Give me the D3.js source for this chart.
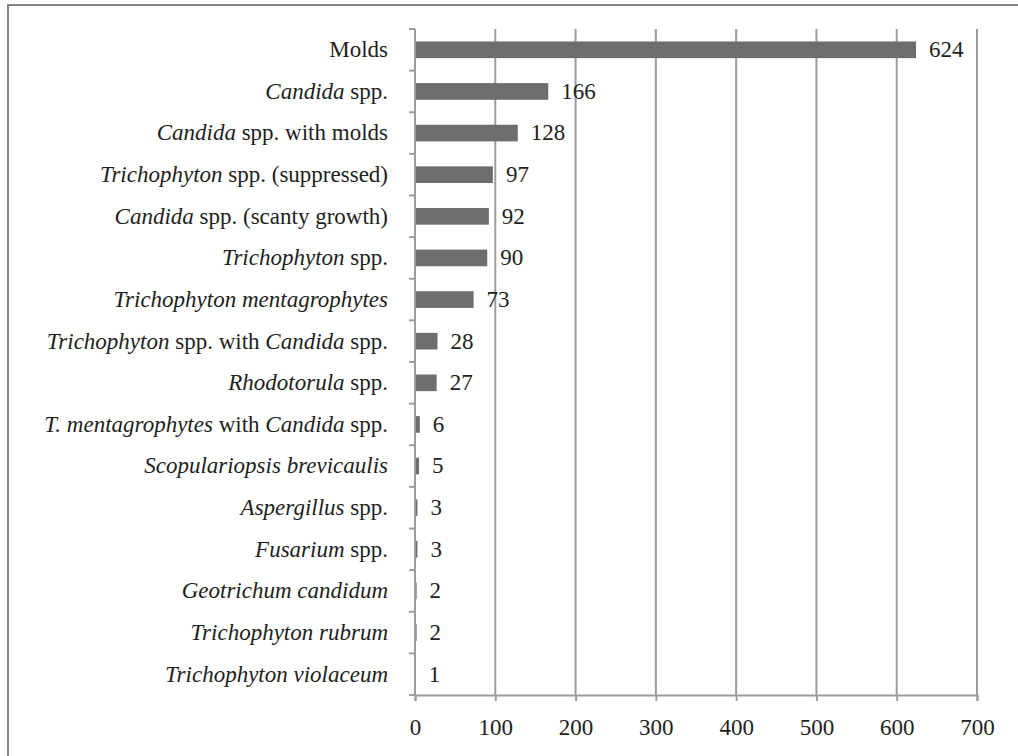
<!DOCTYPE html>
<html>
<head>
<meta charset="utf-8">
<script src="https://cdn.jsdelivr.net/npm/d3@7"></script>
<style>
  body { margin: 0; background: #fff; }
  svg text { font-family: "Liberation Serif", "Times New Roman", "DejaVu Serif", serif; }
</style>
</head>
<body>
<div id="chart"></div>
<script>
// labels use *...* for the italic part
const categories = [
  'Molds',
  '*Candida* spp.',
  '*Candida* spp. with molds',
  '*Trichophyton* spp. (suppressed)',
  '*Candida* spp. (scanty growth)',
  '*Trichophyton* spp.',
  '*Trichophyton mentagrophytes*',
  '*Trichophyton* spp. with *Candida* spp.',
  '*Rhodotorula* spp.',
  '*T. mentagrophytes* with *Candida* spp.',
  '*Scopulariopsis brevicaulis*',
  '*Aspergillus* spp.',
  '*Fusarium* spp.',
  '*Geotrichum candidum*',
  '*Trichophyton rubrum*',
  '*Trichophyton violaceum*'
];
const counts = [624, 166, 128, 97, 92, 90, 73, 28, 27, 6, 5, 3, 3, 2, 2, 1];
const xTicks = [0, 100, 200, 300, 400, 500, 600, 700];

const width = 1018, height = 756;
const margin = { top: 29, right: 41, bottom: 61, left: 415 };
const innerW = width - margin.left - margin.right;
const innerH = height - margin.top - margin.bottom;
const fontSize = '23px';
const textColor = '#1e1e1e';

const svg = d3.select('#chart')
  .append('svg')
  .attr('width', width)
  .attr('height', height);

// frame (only top and left edges show in the picture)
svg.append('path')
  .attr('d', `M8,${height + 5} V5 H${width + 5}`)
  .attr('fill', 'none')
  .attr('stroke', '#858585')
  .attr('stroke-width', 2);

const g = svg.append('g')
  .attr('transform', `translate(${margin.left},${margin.top})`);

const x = d3.scaleLinear().domain([0, 700]).range([0, innerW]);
const y = d3.scaleBand().domain(categories).range([0, innerH]).paddingInner(0.6).paddingOuter(0.3);
const yStep = innerH / categories.length;

// gridlines
g.selectAll('.grid')
  .data(xTicks.slice(1))
  .enter()
  .append('line')
  .attr('class', 'grid')
  .attr('x1', d => x(d))
  .attr('x2', d => x(d))
  .attr('y1', 0)
  .attr('y2', innerH)
  .attr('stroke', '#9c9ca0')
  .attr('stroke-width', 2);

// x axis
const xAxis = g.append('g')
  .attr('transform', `translate(0,${innerH})`)
  .call(d3.axisBottom(x).tickValues(xTicks).tickSize(6).tickPadding(18).tickFormat(d3.format('d')));
xAxis.attr('font-family', null).attr('font-size', null);
xAxis.select('.domain').attr('stroke', '#9c9ca0').attr('stroke-width', 2);
xAxis.selectAll('.tick line').attr('stroke', '#9c9ca0').attr('stroke-width', 2);
xAxis.selectAll('text')
  .style('font-size', fontSize)
  .attr('fill', textColor);

// y axis line with ticks between categories
g.append('line')
  .attr('x1', 0).attr('x2', 0)
  .attr('y1', 0).attr('y2', innerH)
  .attr('stroke', '#9c9ca0')
  .attr('stroke-width', 2);

g.selectAll('.ytick')
  .data(d3.range(categories.length + 1))
  .enter()
  .append('line')
  .attr('class', 'ytick')
  .attr('x1', -6).attr('x2', 0)
  .attr('y1', i => i * yStep)
  .attr('y2', i => i * yStep)
  .attr('stroke', '#9c9ca0')
  .attr('stroke-width', 2);

// bars
g.selectAll('.bar')
  .data(categories)
  .enter()
  .append('rect')
  .attr('class', 'bar')
  .attr('x', 1)
  .attr('y', d => y(d))
  .attr('width', (d, i) => Math.max(x(counts[i]) - 1, 0))
  .attr('height', y.bandwidth())
  .attr('fill', '#6d6d6f');

// value labels
g.selectAll('.value')
  .data(categories)
  .enter()
  .append('text')
  .attr('class', 'value')
  .attr('x', (d, i) => x(counts[i]) + 13)
  .attr('y', d => y(d) + y.bandwidth() / 2)
  .attr('dy', '0.32em')
  .style('font-size', fontSize)
  .attr('fill', textColor)
  .text((d, i) => counts[i]);

// category labels, with italic runs
const labels = g.selectAll('.cat')
  .data(categories)
  .enter()
  .append('text')
  .attr('class', 'cat')
  .attr('x', -27)
  .attr('y', d => y(d) + y.bandwidth() / 2)
  .attr('dy', '0.32em')
  .attr('text-anchor', 'end')
  .style('font-size', fontSize)
  .attr('fill', textColor);

labels.each(function (d) {
  const parts = d.split('*');
  const t = d3.select(this);
  parts.forEach((p, k) => {
    if (p === '') return;
    t.append('tspan')
      .attr('font-style', k % 2 === 1 ? 'italic' : 'normal')
      .text(p);
  });
});
</script>
</body>
</html>
